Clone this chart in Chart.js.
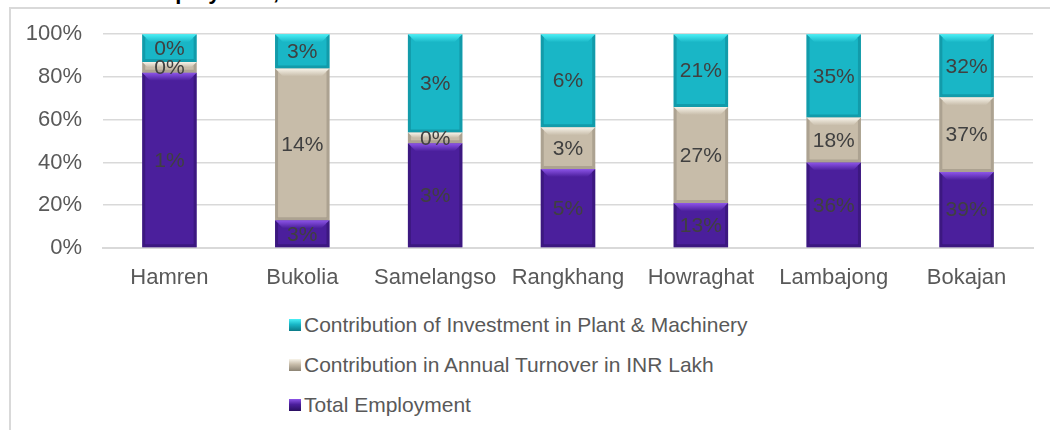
<!DOCTYPE html>
<html lang="en">
<head>
    <meta charset="UTF-8">
    <title>Contribution by Block</title>
    <script src="https://cdn.jsdelivr.net/npm/chart.js"></script>
    <style>
        body { margin: 0; background: #fff; font-family: "Liberation Sans", Arial, sans-serif; }
        #wrap { position: relative; width: 1050px; height: 430px; overflow: hidden; }
        #frame { position: absolute; left: 9px; top: 7px; right: -5px; bottom: -5px;
                 border-top: 2px solid #d9d9d9; border-left: 2px solid #d9d9d9; }
        #title { position: absolute; left: 84px; top: -19px; font-size: 22px; line-height: 22px;
                 font-weight: bold; color: #000; white-space: nowrap; }
        #chartBox { position: absolute; left: 0; top: 0; width: 1050px; height: 290px; }
        #legend { position: absolute; left: 289px; top: 305px; }
        .item { display: flex; align-items: center; height: 40px; font-size: 21px; color: #595959; }
        .box { width: 12px; height: 12px; margin-right: 3px; }
    </style>
</head>
<body>
<div id="wrap">
    <div id="frame"></div>
    <div id="title">Total Employment, Turnover and Investment</div>
    <div id="chartBox"><canvas id="blockChart"></canvas></div>
    <div id="legend"></div>
</div>

<script>
    // blocks
    var categories = ['Hamren', 'Bukolia', 'Samelangso', 'Rangkhang', 'Howraghat', 'Lambajong', 'Bokajan'];

    // bar heights (share of each bar)
    var employmentShare = [82, 13, 49, 37, 21, 40, 35.5];
    var turnoverShare = [5, 71, 5, 19.5, 45, 21, 35];
    var investmentShare = [13, 16, 46, 43.5, 34, 39, 29.5];

    // printed labels
    var employmentLabels = ['1%', '3%', '3%', '5%', '13%', '36%', '39%'];
    var turnoverLabels = ['0%', '14%', '0%', '3%', '27%', '18%', '37%'];
    var investmentLabels = ['0%', '3%', '3%', '6%', '21%', '35%', '32%'];

    var yTicks = [0, 20, 40, 60, 80, 100];

    var palette = [
        { base: '#4b1f9c', light: '#8d55e8', dark: '#2a0f60' },
        { base: '#c7bca9', light: '#f8f4ea', dark: '#8c8373' },
        { base: '#19b6c6', light: '#4af0f6', dark: '#0b7a87' }
    ];

    var labelSets = [employmentLabels, turnoverLabels, investmentLabels];

    // bevel + value labels
    var barDecor = {
        id: 'barDecor',
        afterDatasetsDraw: function(chart) {
            var ctx = chart.ctx;
            chart.data.datasets.forEach(function(ds, i) {
                var meta = chart.getDatasetMeta(i);
                var col = palette[i];
                meta.data.forEach(function(bar) {
                    var p = bar.getProps(['x', 'y', 'base', 'width'], true);
                    var l = p.x - p.width / 2, r = p.x + p.width / 2;
                    var t = Math.min(p.y, p.base), b = Math.max(p.y, p.base);
                    var e = Math.min(8, (b - t) / 2);
                    ctx.save();
                    var g = ctx.createLinearGradient(0, t, 0, t + e);
                    g.addColorStop(0, col.light);
                    g.addColorStop(1, col.base);
                    ctx.fillStyle = g;
                    ctx.beginPath();
                    ctx.moveTo(l, t); ctx.lineTo(r, t); ctx.lineTo(r - e, t + e); ctx.lineTo(l + e, t + e);
                    ctx.closePath(); ctx.fill();
                    ctx.globalAlpha = 0.45;
                    ctx.fillStyle = col.dark;
                    var s = Math.min(3, e);
                    ctx.beginPath();
                    ctx.moveTo(l, t); ctx.lineTo(l + s, t + s); ctx.lineTo(l + s, b - s); ctx.lineTo(l, b);
                    ctx.closePath(); ctx.fill();
                    ctx.beginPath();
                    ctx.moveTo(r, t); ctx.lineTo(r - s, t + s); ctx.lineTo(r - s, b - s); ctx.lineTo(r, b);
                    ctx.closePath(); ctx.fill();
                    ctx.beginPath();
                    ctx.moveTo(l, b); ctx.lineTo(l + s, b - s); ctx.lineTo(r - s, b - s); ctx.lineTo(r, b);
                    ctx.closePath(); ctx.fill();
                    ctx.restore();
                });
            });
            ctx.save();
            ctx.font = '21px "Liberation Sans", Arial, sans-serif';
            ctx.fillStyle = '#404040';
            ctx.textAlign = 'center';
            ctx.textBaseline = 'middle';
            chart.data.datasets.forEach(function(ds, i) {
                var meta = chart.getDatasetMeta(i);
                meta.data.forEach(function(bar, j) {
                    var p = bar.getProps(['x', 'y', 'base'], true);
                    ctx.fillText(labelSets[i][j], p.x, (p.y + p.base) / 2 + 1);
                });
            });
            ctx.restore();
        }
    };

    var ctx = document.getElementById('blockChart').getContext('2d');
    var blockChart = new Chart(ctx, {
        type: 'bar',
        data: {
            labels: categories,
            datasets: [
                { label: 'Total Employment', data: employmentShare, backgroundColor: palette[0].base },
                { label: 'Contribution in Annual Turnover in INR Lakh', data: turnoverShare, backgroundColor: palette[1].base },
                { label: 'Contribution of Investment in Plant & Machinery', data: investmentShare, backgroundColor: palette[2].base }
            ]
        },
        options: {
            responsive: true,
            maintainAspectRatio: false,
            animation: false,
            categoryPercentage: 1,
            barPercentage: 0.41,
            layout: { padding: { top: 34, left: 10, right: 17, bottom: 0 } },
            plugins: {
                legend: { display: false },
                tooltip: { enabled: false }
            },
            scales: {
                x: {
                    stacked: true,
                    grid: { display: false },
                    border: { color: '#d9d9d9', width: 2 },
                    ticks: { color: '#595959', padding: 9, font: { size: 22, family: '"Liberation Sans", Arial' } },
                    afterFit: function(s) { s.height = 42; }
                },
                y: {
                    stacked: true,
                    min: 0,
                    max: 100,
                    afterBuildTicks: function(s) { s.ticks = yTicks.map(function(v) { return { value: v }; }); },
                    grid: { color: '#d9d9d9', lineWidth: 1.5, drawTicks: false },
                    border: { display: false },
                    ticks: {
                        color: '#595959', padding: 21,
                        font: { size: 22, family: '"Liberation Sans", Arial' },
                        callback: function(v) { return v + '%'; }
                    },
                    afterFit: function(s) { s.width = 93; }
                }
            }
        },
        plugins: [barDecor]
    });

    // legend, top series first
    var legend = document.getElementById('legend');
    blockChart.data.datasets.slice().reverse().forEach(function(ds, k) {
        var col = palette[2 - k];
        var item = document.createElement('div');
        item.className = 'item';
        var box = document.createElement('span');
        box.className = 'box';
        box.style.background = 'linear-gradient(' + col.light + ' 0%, ' + col.base + ' 45%, ' + col.dark + ' 100%)';
        item.appendChild(box);
        item.appendChild(document.createTextNode(ds.label));
        legend.appendChild(item);
    });
</script>
</body>
</html>
